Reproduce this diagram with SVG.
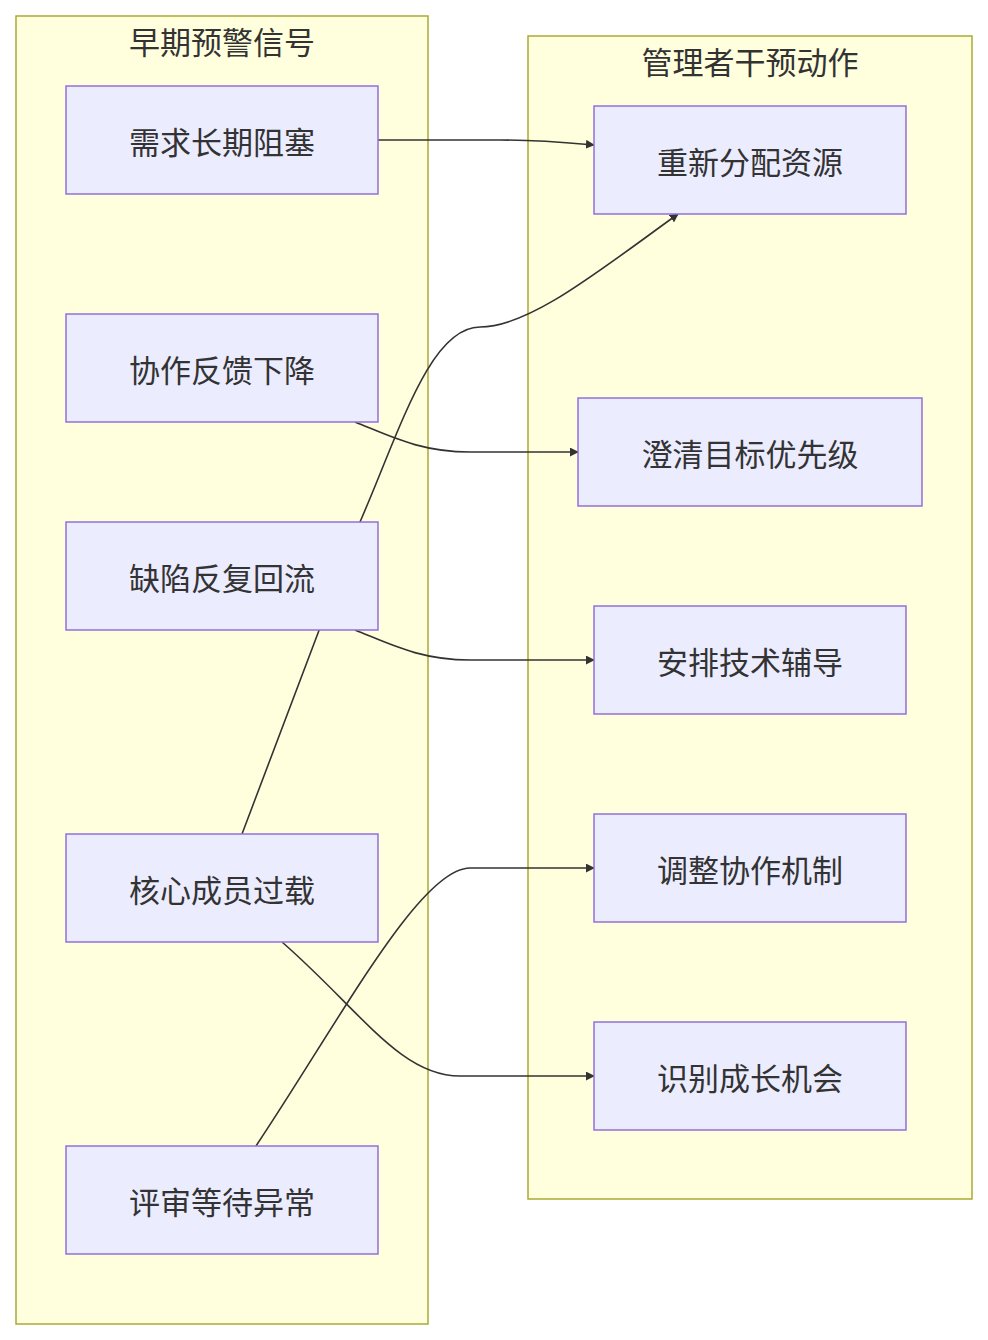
<svg xmlns="http://www.w3.org/2000/svg" width="988" height="1340" viewBox="0 0 988 1340">
<style>
.cl{fill:#ffffde;stroke:#aaaa33;stroke-width:1.5}
.nd{fill:#ececff;stroke:#9370db;stroke-width:1.5}
text{font-family:"Noto Sans CJK SC","Liberation Sans",sans-serif;font-size:31px;fill:#333;text-anchor:middle;dominant-baseline:central}
.e{fill:none;stroke:#333;stroke-width:1.6}
</style>
<defs><marker id="a" viewBox="0 0 10 10" refX="9" refY="5" markerWidth="9" markerHeight="9" markerUnits="userSpaceOnUse" orient="auto"><path d="M0,0L10,5L0,10z" fill="#333"/></marker></defs>
<rect class="cl" x="16" y="16" width="412" height="1308"/>
<text x="222" y="40">早期预警信号</text>
<rect class="cl" x="528" y="36" width="444" height="1163"/>
<text x="750" y="60">管理者干预动作</text>
<g id="edges">
<path class="e" marker-end="url(#a)" d="M378,140 L500,140 C540,140 560,142 594,145"/>
<path class="e" marker-end="url(#a)" d="M242,834 L360,522 C400,430 430,327 480,327 C530,327 600,270 678,214"/>
<path class="e" marker-end="url(#a)" d="M355,422 C390,436 420,452 470,452 L578,452"/>
<path class="e" marker-end="url(#a)" d="M355,630 C390,644 420,660 470,660 L594,660"/>
<path class="e" marker-end="url(#a)" d="M282,942 C360,1010 400,1076 460,1076 L594,1076"/>
<path class="e" marker-end="url(#a)" d="M256,1146 C340,1020 420,868 470,868 L594,868"/>
</g>
<g id="n1"><rect class="nd" x="66" y="86" width="312" height="108"/><text x="222" y="140">需求长期阻塞</text></g>
<g id="n2"><rect class="nd" x="66" y="314" width="312" height="108"/><text x="222" y="368">协作反馈下降</text></g>
<g id="n3"><rect class="nd" x="66" y="522" width="312" height="108"/><text x="222" y="576">缺陷反复回流</text></g>
<g id="n4"><rect class="nd" x="66" y="834" width="312" height="108"/><text x="222" y="888">核心成员过载</text></g>
<g id="n5"><rect class="nd" x="66" y="1146" width="312" height="108"/><text x="222" y="1200">评审等待异常</text></g>
<g id="m1"><rect class="nd" x="594" y="106" width="312" height="108"/><text x="750" y="160">重新分配资源</text></g>
<g id="m2"><rect class="nd" x="578" y="398" width="344" height="108"/><text x="750" y="452">澄清目标优先级</text></g>
<g id="m3"><rect class="nd" x="594" y="606" width="312" height="108"/><text x="750" y="660">安排技术辅导</text></g>
<g id="m4"><rect class="nd" x="594" y="814" width="312" height="108"/><text x="750" y="868">调整协作机制</text></g>
<g id="m5"><rect class="nd" x="594" y="1022" width="312" height="108"/><text x="750" y="1076">识别成长机会</text></g>
</svg>
